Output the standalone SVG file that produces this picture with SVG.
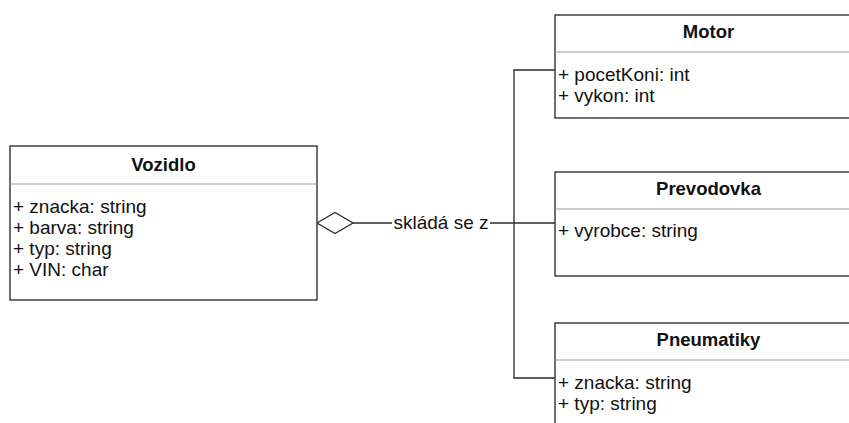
<svg xmlns="http://www.w3.org/2000/svg" width="849" height="423" viewBox="0 0 849 423">
  <style>
    .box { fill: #ffffff; stroke: #222222; stroke-width: 1.3; }
    .sep { stroke: #9a9a9a; stroke-width: 1.2; }
    .title { font-family: "Liberation Sans", Arial, sans-serif; font-size: 18.5px; font-weight: bold; fill: #111111; text-anchor: middle; }
    .attr { font-family: "Liberation Sans", Arial, sans-serif; font-size: 19px; fill: #111111; }
    .edge { fill: none; stroke: #2a2a2a; stroke-width: 1.3; }
    .label { font-family: "Liberation Sans", Arial, sans-serif; font-size: 19px; fill: #111111; text-anchor: middle; }
  </style>

  <!-- aggregation connectors -->
  <g id="connectors">
    <polyline class="edge" points="353,223 557,223"/>
    <polyline class="edge" points="555,70 514,70 514,378 555,378"/>
    <polygon class="edge" points="317,223 335,212.5 353,223 335,233.5" style="fill:#ffffff"/>
    <rect x="392" y="212" width="98" height="22" fill="#ffffff"/>
    <text class="label" x="441" y="229">skládá se z</text>
  </g>

  <g id="vozidlo">
    <rect class="box" x="10" y="146" width="307" height="154"/>
    <line class="sep" x1="10" y1="184" x2="317" y2="184"/>
    <text class="title" x="163.5" y="171">Vozidlo</text>
    <text class="attr" x="13" y="213">+ znacka: string</text>
    <text class="attr" x="13" y="234">+ barva: string</text>
    <text class="attr" x="13" y="255">+ typ: string</text>
    <text class="attr" x="13" y="276">+ VIN: char</text>
  </g>

  <g id="motor">
    <rect class="box" x="555" y="15" width="308" height="103"/>
    <line class="sep" x1="555" y1="52" x2="863" y2="52"/>
    <text class="title" x="708.5" y="38">Motor</text>
    <text class="attr" x="558" y="81">+ pocetKoni: int</text>
    <text class="attr" x="558" y="102">+ vykon: int</text>
  </g>

  <g id="prevodovka">
    <rect class="box" x="555" y="172" width="308" height="104"/>
    <line class="sep" x1="555" y1="209" x2="863" y2="209"/>
    <text class="title" x="708.5" y="195">Prevodovka</text>
    <text class="attr" x="558" y="237">+ vyrobce: string</text>
  </g>

  <g id="pneumatiky">
    <rect class="box" x="555" y="323" width="308" height="120"/>
    <line class="sep" x1="555" y1="360" x2="863" y2="360"/>
    <text class="title" x="708.5" y="346">Pneumatiky</text>
    <text class="attr" x="558" y="389">+ znacka: string</text>
    <text class="attr" x="558" y="410">+ typ: string</text>
  </g>
</svg>
